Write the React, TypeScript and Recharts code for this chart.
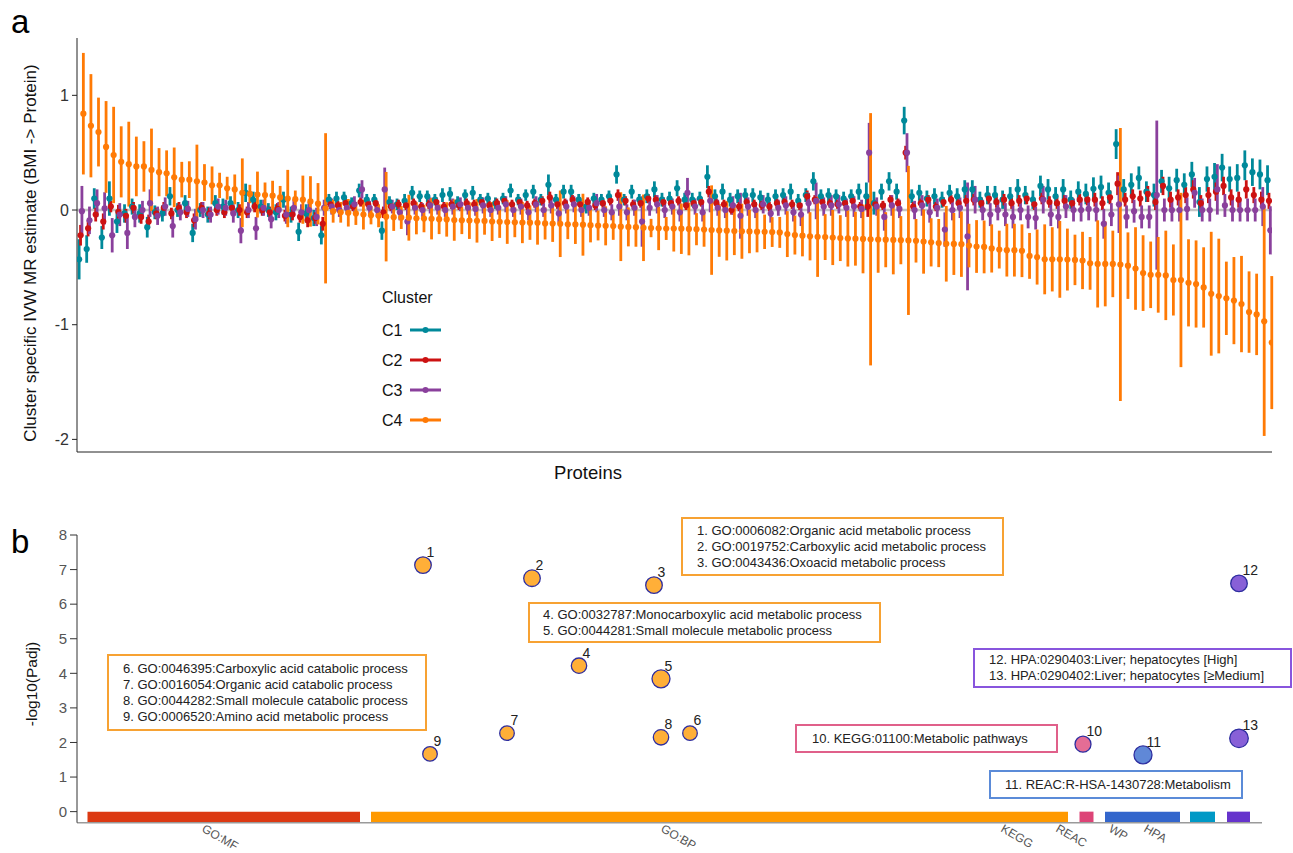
import React from 'react';
import {
  ScatterChart,
  Scatter,
  XAxis,
  YAxis,
  ErrorBar,
  ReferenceLine,
  ReferenceArea,
  Label,
} from 'recharts';

const FONT = '"Liberation Sans", Arial, Helvetica, sans-serif';

// ---------------- Panel a data ----------------
const CLUSTERS = ['C1', 'C2', 'C3', 'C4'];
const CLUSTER_COLORS = ['#00899a', '#cc1212', '#8a409c', '#ff7a05'];
const DODGE = [-0.29, -0.1, 0.08, 0.27];

const C4_EST = [
  0.84, 0.735, 0.68, 0.55, 0.48, 0.42, 0.40, 0.38, 0.38, 0.35,
  0.33, 0.32, 0.285, 0.265, 0.265, 0.25, 0.24, 0.215, 0.215, 0.19,
  0.18, 0.15, 0.14, 0.135, 0.13, 0.125, 0.11, 0.10, 0.095, 0.09,
  0.075, 0.055, 0.015, -0.01, -0.02, -0.024, -0.03, -0.04, -0.045, -0.05,
  -0.058, -0.062, -0.065, -0.067, -0.072, -0.074, -0.076, -0.08, -0.082, -0.088,
  -0.09, -0.092, -0.094, -0.095, -0.1, -0.103, -0.105, -0.107, -0.109, -0.11,
  -0.112, -0.117, -0.118, -0.12, -0.124, -0.126, -0.128, -0.132, -0.135, -0.138,
  -0.14, -0.145, -0.147, -0.15, -0.155, -0.157, -0.16, -0.161, -0.162, -0.163,
  -0.165, -0.167, -0.17, -0.175, -0.178, -0.18, -0.183, -0.185, -0.187, -0.189,
  -0.19, -0.192, -0.195, -0.21, -0.218, -0.224, -0.229, -0.233, -0.236, -0.24,
  -0.245, -0.248, -0.25, -0.252, -0.255, -0.257, -0.259, -0.261, -0.263, -0.265,
  -0.268, -0.275, -0.282, -0.288, -0.294, -0.296, -0.298, -0.31, -0.318, -0.322,
  -0.335, -0.345, -0.35, -0.35, -0.355, -0.40, -0.41, -0.43, -0.43, -0.43,
  -0.432, -0.435, -0.44, -0.465, -0.47, -0.47, -0.47, -0.475, -0.485, -0.51,
  -0.55, -0.565, -0.565, -0.57, -0.61, -0.61, -0.635, -0.645, -0.675, -0.73,
  -0.75, -0.77, -0.79, -0.82, -0.89, -0.91, -0.97, -1.156,
];
const C4_CI = [
  0.53, 0.45, 0.3, 0.4, 0.42, 0.31, 0.37, 0.26, 0.22, 0.36,
  0.21, 0.2, 0.26, 0.155, 0.16, 0.32, 0.16, 0.165, 0.11, 0.10,
  0.13, 0.3, 0.08, 0.2, 0.11, 0.13, 0.1, 0.25, 0.075, 0.21,
  0.22, 0.18, 0.655, 0.10, 0.09, 0.12, 0.10, 0.13, 0.08, 0.10,
  0.39, 0.12, 0.10, 0.20, 0.14, 0.12, 0.18, 0.13, 0.15, 0.18,
  0.12, 0.16, 0.19, 0.12, 0.17, 0.14, 0.19, 0.13, 0.18, 0.15,
  0.19, 0.14, 0.16, 0.29, 0.13, 0.17, 0.27, 0.15, 0.13, 0.17,
  0.12, 0.3, 0.17, 0.17, 0.29, 0.08, 0.19, 0.1, 0.2, 0.22,
  0.23, 0.14, 0.15, 0.39, 0.23, 0.26, 0.21, 0.24, 0.19, 0.18,
  0.15, 0.13, 0.135, 0.2, 0.17, 0.18, 0.21, 0.35, 0.2, 0.24,
  0.2, 0.245, 0.235, 0.3, 1.1, 0.29, 0.24, 0.3, 0.21, 0.65,
  0.19, 0.28, 0.21, 0.21, 0.33, 0.27, 0.285, 0.19, 0.23, 0.23,
  0.21, 0.165, 0.23, 0.23, 0.23, 0.2, 0.24, 0.305, 0.28, 0.335,
  0.27, 0.22, 0.25, 0.23, 0.38, 0.37, 0.29, 1.19, 0.29, 0.36,
  0.33, 0.29, 0.33, 0.39, 0.31, 0.76, 0.38, 0.38, 0.35, 0.54,
  0.5, 0.32, 0.38, 0.42, 0.355, 0.355, 1.0, 0.58,
];

const C1_EST = [
  -0.43, -0.34, 0.10, -0.24, 0.10, -0.10, -0.03, 0.03, -0.03, -0.15,
  -0.02, -0.03, 0.12, 0.0, 0.06, -0.20, 0.0, -0.04, 0.06, 0.03,
  0.06, 0.0, 0.15, 0.09, 0.03, 0.0, -0.02, 0.09, -0.04, -0.19,
  -0.03, -0.07, -0.22, 0.09, 0.10, 0.11, 0.06, 0.17, 0.09, 0.09,
  -0.18, 0.07, 0.05, 0.08, 0.15, 0.12, 0.12, 0.09, 0.13, 0.14,
  0.07, 0.13, 0.15, 0.09, 0.10, 0.06, 0.10, 0.17, 0.09, 0.13,
  0.16, 0.09, 0.22, 0.09, 0.16, 0.16, 0.09, 0.03, 0.10, 0.09,
  0.12, 0.31, 0.09, 0.16, 0.09, 0.12, 0.18, 0.09, 0.10, 0.19,
  0.09, 0.09, 0.10, 0.29, 0.12, 0.16, 0.09, 0.12, 0.13, 0.13,
  0.11, 0.09, 0.12, 0.13, 0.16, 0.08, 0.13, 0.25, 0.12, 0.13,
  0.12, 0.10, 0.12, 0.16, 0.12, 0.06, 0.16, 0.25, 0.16, 0.78,
  0.12, 0.15, 0.10, 0.12, 0.09, 0.15, 0.12, 0.18, 0.18, 0.09,
  0.13, 0.13, 0.09, 0.12, 0.18, 0.13, 0.09, 0.21, 0.18, 0.12,
  0.18, 0.09, 0.16, 0.14, 0.185, 0.20, 0.15, 0.575, 0.18, 0.22,
  0.28, 0.16, 0.13, 0.25, 0.19, 0.26, 0.22, 0.31, 0.07, 0.27,
  0.29, 0.37, 0.27, 0.28, 0.39, 0.33, 0.31, 0.26,
];
const C1_CI = [
  0.175, 0.12, 0.09, 0.1, 0.15, 0.1, 0.08, 0.07, 0.08, 0.09,
  0.06, 0.07, 0.08, 0.06, 0.07, 0.08, 0.06, 0.07, 0.07, 0.07,
  0.06, 0.07, 0.08, 0.07, 0.06, 0.06, 0.07, 0.07, 0.07, 0.08,
  0.08, 0.07, 0.08, 0.05, 0.06, 0.05, 0.05, 0.06, 0.05, 0.05,
  0.08, 0.05, 0.05, 0.06, 0.06, 0.05, 0.05, 0.05, 0.06, 0.06,
  0.05, 0.05, 0.06, 0.05, 0.05, 0.05, 0.05, 0.06, 0.05, 0.05,
  0.06, 0.05, 0.09, 0.05, 0.06, 0.06, 0.05, 0.06, 0.05, 0.05,
  0.05, 0.08, 0.05, 0.06, 0.05, 0.06, 0.07, 0.06, 0.06, 0.07,
  0.06, 0.06, 0.06, 0.1, 0.06, 0.07, 0.06, 0.06, 0.06, 0.06,
  0.06, 0.06, 0.06, 0.06, 0.07, 0.06, 0.06, 0.08, 0.06, 0.06,
  0.06, 0.06, 0.06, 0.07, 0.12, 0.1, 0.07, 0.08, 0.07, 0.12,
  0.06, 0.07, 0.07, 0.07, 0.07, 0.07, 0.07, 0.08, 0.08, 0.07,
  0.08, 0.08, 0.08, 0.08, 0.09, 0.08, 0.08, 0.09, 0.09, 0.08,
  0.09, 0.08, 0.09, 0.09, 0.1, 0.1, 0.09, 0.13, 0.09, 0.1,
  0.1, 0.09, 0.1, 0.1, 0.1, 0.1, 0.1, 0.11, 0.13, 0.11,
  0.12, 0.12, 0.11, 0.12, 0.13, 0.12, 0.13, 0.13,
];

const C2_EST = [
  -0.22, -0.16, -0.04, -0.10, 0.03, -0.015, -0.05, 0.02, -0.06, -0.1,
  -0.03, 0.02, -0.03, 0.02, -0.02, -0.09, 0.02, -0.03, 0.0, -0.02,
  0.02, 0.0, -0.02, 0.03, 0.0, -0.02, 0.01, -0.05, -0.04, -0.06,
  -0.09, -0.07, -0.12, 0.05, 0.04, 0.06, 0.03, 0.07, 0.05, 0.06,
  -0.02, 0.03, 0.05, 0.04, 0.06, 0.03, 0.05, 0.07, 0.03, 0.05,
  0.04, 0.06, 0.05, 0.07, 0.04, 0.06, 0.08, 0.05, 0.07, 0.04,
  0.06, 0.08, 0.11, 0.05, 0.06, 0.09, 0.05, 0.07, 0.04, 0.06,
  0.08, 0.13, 0.08, 0.05, 0.06, 0.1, 0.09, 0.07, 0.06, 0.08,
  0.04, 0.06, 0.07, 0.16, 0.06, 0.05, 0.0, 0.03, 0.07, 0.05,
  0.04, 0.03, 0.06, 0.07, 0.05, 0.04, 0.12, 0.09, 0.07, 0.06,
  0.05, 0.06, 0.08, 0.03, 0.03, 0.05, 0.04, 0.09, 0.06, 0.5,
  0.03, 0.06, 0.09, 0.03, 0.07, 0.09, 0.06, 0.08, 0.09, 0.06,
  0.1, 0.07, 0.09, 0.06, 0.08, 0.1, 0.05, 0.1, 0.07, 0.06,
  0.08, 0.06, 0.09, 0.09, 0.09, 0.06, 0.11, 0.23, 0.09, 0.12,
  0.1, 0.14, 0.07, 0.21, 0.09, 0.11, 0.13, 0.18, 0.06, 0.13,
  0.16, 0.21, 0.11, 0.09, 0.18, 0.13, 0.09, 0.08,
];
const C2_CI = [
  0.09, 0.07, 0.06, 0.07, 0.05, 0.06, 0.06, 0.05, 0.06, 0.06,
  0.05, 0.05, 0.05, 0.05, 0.05, 0.06, 0.05, 0.05, 0.05, 0.05,
  0.05, 0.05, 0.05, 0.05, 0.05, 0.05, 0.05, 0.05, 0.05, 0.05,
  0.06, 0.05, 0.06, 0.04, 0.04, 0.04, 0.04, 0.04, 0.04, 0.04,
  0.05, 0.04, 0.04, 0.04, 0.04, 0.04, 0.04, 0.04, 0.04, 0.04,
  0.04, 0.04, 0.04, 0.04, 0.04, 0.04, 0.04, 0.04, 0.04, 0.04,
  0.04, 0.04, 0.05, 0.04, 0.04, 0.04, 0.04, 0.04, 0.04, 0.04,
  0.04, 0.05, 0.04, 0.04, 0.04, 0.04, 0.04, 0.04, 0.04, 0.04,
  0.04, 0.04, 0.04, 0.05, 0.04, 0.04, 0.04, 0.04, 0.04, 0.04,
  0.04, 0.04, 0.04, 0.04, 0.04, 0.04, 0.05, 0.04, 0.04, 0.04,
  0.04, 0.04, 0.04, 0.04, 0.09, 0.04, 0.04, 0.04, 0.04, 0.06,
  0.04, 0.04, 0.04, 0.04, 0.04, 0.04, 0.04, 0.05, 0.05, 0.05,
  0.05, 0.05, 0.05, 0.05, 0.05, 0.05, 0.05, 0.05, 0.05, 0.05,
  0.05, 0.05, 0.05, 0.05, 0.06, 0.06, 0.06, 0.1, 0.06, 0.06,
  0.07, 0.07, 0.07, 0.08, 0.07, 0.07, 0.07, 0.08, 0.07, 0.07,
  0.08, 0.08, 0.07, 0.07, 0.08, 0.07, 0.07, 0.07,
];

const C3_EST = [
  -0.01, -0.09, 0.06, 0.015, -0.22, -0.04, -0.2, -0.06, 0.0, 0.06,
  -0.05, 0.03, -0.14, -0.02, 0.01, -0.08, 0.0, -0.04, 0.03, 0.02,
  -0.03, -0.18, 0.0, -0.16, 0.02, -0.08, 0.0, -0.04, 0.02, -0.02,
  0.0, -0.06, 0.02, 0.03, 0.0, 0.02, 0.05, 0.18, 0.02, 0.0,
  0.18, 0.03, -0.02, -0.1, 0.02, 0.0, 0.04, 0.02, 0.0, 0.03,
  0.05, 0.02, 0.01, 0.04, 0.0, 0.02, 0.05, 0.0, 0.03, -0.02,
  0.05, 0.0, 0.04, -0.03, 0.03, 0.05, 0.0, 0.02, 0.06, 0.0,
  -0.02, 0.03, -0.02, 0.02, -0.1, 0.02, 0.05, 0.0, 0.03, -0.02,
  0.15, 0.03, -0.02, 0.08, 0.02, 0.0, 0.04, -0.05, 0.03, 0.0,
  0.05, -0.03, 0.02, 0.04, -0.02, -0.04, 0.06, 0.08, 0.03, 0.04,
  0.05, 0.02, 0.03, 0.01, 0.5, 0.03, -0.06, 0.04, 0.01, 0.5,
  0.0, 0.04, -0.02, 0.02, -0.17, 0.0, 0.02, -0.23, 0.09, 0.0,
  -0.04, 0.0, -0.04, -0.06, 0.0, -0.06, -0.07, 0.09, -0.04, -0.06,
  0.03, 0.0, 0.0, 0.01, 0.0, -0.12, -0.04, 0.05, -0.06, -0.01,
  -0.06, -0.06, 0.13, 0.0, 0.0, 0.0, 0.01, 0.15, 0.0, 0.0,
  0.18, 0.04, 0.0, 0.0, 0.0, 0.0, 0.03, -0.177,
];
const C3_CI = [
  0.22, 0.12, 0.12, 0.14, 0.15, 0.1, 0.14, 0.09, 0.08, 0.12,
  0.08, 0.08, 0.1, 0.07, 0.07, 0.09, 0.07, 0.07, 0.07, 0.07,
  0.08, 0.11, 0.07, 0.1, 0.07, 0.08, 0.07, 0.08, 0.07, 0.07,
  0.07, 0.08, 0.07, 0.07, 0.06, 0.06, 0.07, 0.08, 0.06, 0.06,
  0.19, 0.06, 0.07, 0.12, 0.06, 0.06, 0.07, 0.06, 0.06, 0.07,
  0.06, 0.06, 0.06, 0.07, 0.06, 0.06, 0.07, 0.06, 0.07, 0.07,
  0.07, 0.06, 0.07, 0.08, 0.06, 0.07, 0.06, 0.07, 0.08, 0.06,
  0.07, 0.08, 0.07, 0.07, 0.22, 0.07, 0.08, 0.07, 0.07, 0.08,
  0.13, 0.07, 0.08, 0.1, 0.07, 0.07, 0.08, 0.2, 0.08, 0.07,
  0.08, 0.08, 0.07, 0.08, 0.08, 0.1, 0.09, 0.16, 0.08, 0.09,
  0.08, 0.08, 0.09, 0.08, 0.26, 0.08, 0.12, 0.09, 0.08, 0.17,
  0.08, 0.09, 0.09, 0.08, 0.15, 0.09, 0.09, 0.47, 0.12, 0.09,
  0.1, 0.09, 0.1, 0.1, 0.09, 0.1, 0.1, 0.12, 0.1, 0.1,
  0.1, 0.1, 0.1, 0.1, 0.1, 0.13, 0.1, 0.25, 0.1, 0.1,
  0.1, 0.1, 0.65, 0.1, 0.1, 0.1, 0.1, 0.13, 0.1, 0.1,
  0.22, 0.1, 0.1, 0.1, 0.1, 0.1, 0.17, 0.21,
];

const EST = [C1_EST, C2_EST, C3_EST, C4_EST];
const CIS = [C1_CI, C2_CI, C3_CI, C4_CI];
const A_Y_TICKS = [-2, -1, 0, 1];

// ---------------- Panel b data ----------------
const SOURCES = ['GO:MF', 'GO:BP', 'KEGG', 'REAC', 'WP', 'HPA'];
const SOURCE_COLORS = ['#dc3912', '#ff9900', '#dd4477', '#3366cc', '#0099c6', '#6633cc'];
const SOURCE_START = [10.5, 294, 1002.5, 1028, 1113, 1150];
const SOURCE_END = [283, 991, 1016.5, 1103, 1138, 1173];
const SOURCE_LABEL_POS = [124, 583, 923, 978, 1031, 1066];

const TERM_ID = [1, 2, 3, 4, 5, 6, 7, 8, 9, 10, 11, 12, 13];
const TERM_SOURCE = ['GO:BP', 'GO:BP', 'GO:BP', 'GO:BP', 'GO:BP', 'GO:BP', 'GO:BP', 'GO:BP', 'GO:BP', 'KEGG', 'REAC', 'HPA', 'HPA'];
const TERM_POS = [346, 455, 577, 502, 584, 613, 430, 584, 353, 1006, 1066, 1162, 1162];
const TERM_LOGP = [7.13, 6.75, 6.55, 4.22, 3.84, 2.27, 2.27, 2.15, 1.67, 1.95, 1.64, 6.6, 2.12];
const TERM_SIZE = [8.3, 8.3, 8.3, 7.7, 9, 7.3, 7.3, 7.7, 7.3, 8, 9, 8.3, 9.3];
const B_Y_TICKS = [0, 1, 2, 3, 4, 5, 6, 7, 8];

const BOX_TEXT_1 = [
  '1. GO:0006082:Organic acid metabolic process',
  '2. GO:0019752:Carboxylic acid metabolic process',
  '3. GO:0043436:Oxoacid metabolic process',
];
const BOX_TEXT_2 = [
  '4. GO:0032787:Monocarboxylic acid metabolic process',
  '5. GO:0044281:Small molecule metabolic process',
];
const BOX_TEXT_3 = [
  '6. GO:0046395:Carboxylic acid catabolic process',
  '7. GO:0016054:Organic acid catabolic process',
  '8. GO:0044282:Small molecule catabolic process',
  '9. GO:0006520:Amino acid metabolic process',
];
const BOX_TEXT_4 = ['10. KEGG:01100:Metabolic pathways'];
const BOX_TEXT_5 = ['11. REAC:R-HSA-1430728:Metabolism'];
const BOX_TEXT_6 = [
  '12. HPA:0290403:Liver; hepatocytes [High]',
  '13. HPA:0290402:Liver; hepatocytes [\u2265Medium]',
];

// ---------------- derived ----------------
const seriesA = EST.map((est, k) =>
  est.map((y, i) => ({ x: i + DODGE[k], y, e: CIS[k][i] }))
);

const termData = TERM_ID.map((id, i) => ({
  id,
  x: TERM_POS[i],
  y: TERM_LOGP[i],
  r: TERM_SIZE[i],
  color: SOURCE_COLORS[SOURCES.indexOf(TERM_SOURCE[i])],
}));

const makeDot = (color: string) => (props: any) => {
  const { cx, cy } = props;
  if (cx == null || cy == null) return <g />;
  return <circle cx={cx} cy={cy} r={3.1} fill={color} />;
};

const TermShape = (props: any) => {
  const { cx, cy, payload } = props;
  if (cx == null || cy == null) return <g />;
  return (
    <g>
      <circle
        cx={cx}
        cy={cy}
        r={payload.r}
        fill={payload.color}
        fillOpacity={0.78}
        stroke="#2e2ea0"
        strokeWidth={1.3}
      />
      <text x={cx + 3.5} y={cy - 8} fontSize={14} fill="#222" fontFamily={FONT}>
        {payload.id}
      </text>
    </g>
  );
};

const SourceTick = (props: any) => {
  const { x, payload } = props;
  const idx = SOURCE_LABEL_POS.indexOf(payload.value);
  const yb = 341;
  return (
    <text
      x={x}
      y={yb}
      transform={`rotate(30 ${x} ${yb})`}
      fontSize={12}
      fill="#555"
      fontFamily={FONT}
    >
      {idx >= 0 ? SOURCES[idx] : ''}
    </text>
  );
};

const AnnotBox = ({ left, top, width, height, color, lines, pad }: any) => (
  <div
    style={{
      position: 'absolute',
      left,
      top,
      width,
      height,
      boxSizing: 'border-box',
      border: `2px solid ${color}`,
      background: 'white',
      display: 'flex',
      flexDirection: 'column',
      justifyContent: 'center',
      paddingLeft: pad,
      fontFamily: FONT,
      fontSize: 13,
      lineHeight: '16px',
      color: '#222',
      whiteSpace: 'nowrap',
    }}
  >
    {lines.map((t: string) => (
      <div key={t}>{t}</div>
    ))}
  </div>
);

export default function App() {
  return (
    <div
      style={{
        position: 'absolute',
        left: 0,
        top: 0,
        width: 1293,
        height: 853,
        background: 'white',
        fontFamily: FONT,
        overflow: 'hidden',
      }}
    >
      {/* Panel a */}
      <div style={{ position: 'absolute', left: 0, top: 0 }}>
        <ScatterChart width={1293} height={490} margin={{ top: 38, right: 21, bottom: 0, left: 0 }}>
          <XAxis
            type="number"
            dataKey="x"
            domain={[-0.57, 157.3]}
            allowDataOverflow
            tick={false}
            tickLine={false}
            axisLine={{ stroke: '#222', strokeWidth: 1 }}
            height={38}
          >
            <Label
              content={() => (
                <text x={588} y={479} textAnchor="middle" fontSize={18.5} fill="#111" fontFamily={FONT}>
                  Proteins
                </text>
              )}
            />
          </XAxis>
          <YAxis
            type="number"
            dataKey="y"
            domain={[-2.11, 1.5]}
            allowDataOverflow
            ticks={A_Y_TICKS}
            interval={0}
            width={77}
            tickSize={5}
            tickMargin={3}
            tick={{ fontSize: 16, fill: '#333', fontFamily: FONT }}
            tickLine={{ stroke: '#222' }}
            axisLine={{ stroke: '#222', strokeWidth: 1 }}
          >
            <Label
              content={() => (
                <text
                  x={30}
                  y={253}
                  transform="rotate(-90 30 253)"
                  textAnchor="middle"
                  dominantBaseline="central"
                  fontSize={17}
                  fill="#111"
                  fontFamily={FONT}
                >
                  Cluster specific IVW MR estimate (BMI -&gt; Protein)
                </text>
              )}
            />
          </YAxis>
          <ReferenceLine y={0} stroke="#c4c4c4" strokeWidth={2.5} />
          {seriesA.map((data, k) => (
            <Scatter
              key={CLUSTERS[k]}
              name={CLUSTERS[k]}
              data={data}
              fill={CLUSTER_COLORS[k]}
              shape={makeDot(CLUSTER_COLORS[k])}
              isAnimationActive={false}
            >
              <ErrorBar
                dataKey="e"
                direction="y"
                width={0}
                stroke={CLUSTER_COLORS[k]}
                strokeWidth={2.8}
                isAnimationActive={false}
              />
            </Scatter>
          ))}
        </ScatterChart>
      </div>

      {/* Panel b */}
      <div style={{ position: 'absolute', left: 0, top: 490 }}>
        <ScatterChart width={1293} height={363} margin={{ top: 45, right: 31, bottom: 0, left: 0 }}>
          <XAxis
            type="number"
            dataKey="x"
            domain={[0, 1185]}
            allowDataOverflow
            ticks={SOURCE_LABEL_POS}
            interval={0}
            tick={<SourceTick />}
            tickLine={false}
            axisLine={{ stroke: '#9a9a9a', strokeWidth: 1.6 }}
            height={30.3}
          />
          <YAxis
            type="number"
            dataKey="y"
            domain={[-0.32, 8]}
            allowDataOverflow
            ticks={B_Y_TICKS}
            interval={0}
            width={77}
            tickSize={7}
            tickMargin={3}
            tick={{ fontSize: 15, fill: '#555', fontFamily: FONT }}
            tickLine={{ stroke: '#333' }}
            axisLine={{ stroke: '#333', strokeWidth: 1 }}
          >
            <Label
              content={() => (
                <text
                  x={31}
                  y={194}
                  transform="rotate(-90 31 194)"
                  textAnchor="middle"
                  dominantBaseline="central"
                  fontSize={15.5}
                  fill="#111"
                  fontFamily={FONT}
                >
                  -log10(Padj)
                </text>
              )}
            />
          </YAxis>
          {SOURCES.map((s, i) => (
            <ReferenceArea
              key={s}
              x1={SOURCE_START[i]}
              x2={SOURCE_END[i]}
              y1={-0.3}
              y2={0}
              fill={SOURCE_COLORS[i]}
              fillOpacity={1}
              stroke="none"
              ifOverflow="visible"
            />
          ))}
          <Scatter data={termData} shape={TermShape} isAnimationActive={false} />
        </ScatterChart>
      </div>

      {/* Panel letters and legend */}
      <svg
        width={1293}
        height={853}
        style={{ position: 'absolute', left: 0, top: 0, pointerEvents: 'none' }}
      >
        <text x={11} y={33} fontSize={33} fill="#000" fontFamily={FONT}>a</text>
        <text x={11} y={553} fontSize={33} fill="#000" fontFamily={FONT}>b</text>
        <text x={382} y={302.5} fontSize={16} fill="#111" fontFamily={FONT}>Cluster</text>
        {CLUSTERS.map((c, k) => {
          const yc = 330 + k * 30;
          return (
            <g key={c}>
              <text x={382} y={yc + 5.5} fontSize={16} fill="#111" fontFamily={FONT}>{c}</text>
              <line x1={410} x2={441} y1={yc} y2={yc} stroke={CLUSTER_COLORS[k]} strokeWidth={3} />
              <circle cx={425.5} cy={yc} r={3} fill={CLUSTER_COLORS[k]} />
            </g>
          );
        })}
      </svg>

      {/* Annotation boxes for panel b */}
      <AnnotBox left={681} top={517} width={323} height={59} color="#f7a233" lines={BOX_TEXT_1} pad={14} />
      <AnnotBox left={528} top={602} width={353} height={41} color="#f7a233" lines={BOX_TEXT_2} pad={13} />
      <AnnotBox left={107} top={654} width={320} height={77} color="#f7a233" lines={BOX_TEXT_3} pad={14} />
      <AnnotBox left={795} top={724} width={263} height={29} color="#e0608a" lines={BOX_TEXT_4} pad={15} />
      <AnnotBox left={989} top={770} width={254} height={29} color="#5b8bd8" lines={BOX_TEXT_5} pad={14} />
      <AnnotBox left={973} top={648} width={319} height={40} color="#8855dd" lines={BOX_TEXT_6} pad={14} />
    </div>
  );
}
